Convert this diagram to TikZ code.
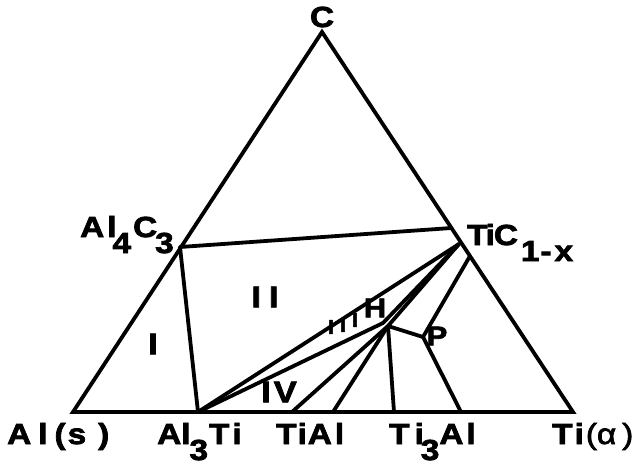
\documentclass[tikz,border=0pt]{standalone}
\usepackage{fontspec}
\newfontfamily\lab{Liberation Sans}[FakeStretch=1.15,FakeBold=2.5]
\newcommand\gp[1]{\hspace{#1pt}}
\newcommand\dn[1]{\raisebox{-16pt}{#1}}
\tikzset{
  lbl/.style={font=\lab\bfseries\fontsize{29}{31}\selectfont, inner sep=0pt, anchor=base west},
  reg/.style={font=\lab\bfseries\fontsize{30}{32}\selectfont, inner sep=0pt, anchor=center},
  sml/.style={font=\lab\bfseries\fontsize{20}{22}\selectfont, inner sep=0pt, anchor=center},
  phase/.style={line width=3.8pt, line join=miter, line cap=round}
}
\begin{document}
\begin{tikzpicture}[x=1pt,y=-1pt]
\path[use as bounding box] (0,0) rectangle (639,465);
% points
\coordinate (C) at (322,32);
\coordinate (L) at (73,412);
\coordinate (R) at (573,412);
\coordinate (A4) at (180,247);
\coordinate (T1) at (451.5,228);
\coordinate (Tc) at (459,244);
\coordinate (B3) at (198,412);
\coordinate (Ha) at (383,323);
\coordinate (Hb) at (388,326);
\coordinate (P) at (423,337);
\coordinate (S) at (470,256);
\coordinate (b1) at (292,412);
\coordinate (b2) at (333,412);
\coordinate (b3) at (394,412);
\coordinate (b4) at (461,412);
% triangle
\draw[phase] (L) -- (R) -- (C) -- cycle;
% tie lines
\draw[phase] (A4) -- (T1);
\draw[phase] (A4) -- (B3);
\draw[phase] (B3) -- (Tc);
\draw[phase] (B3) -- (Ha);
\draw[phase] (Tc) -- (Ha);
\draw[phase] (Tc) -- (Hb);
\draw[phase] (Hb) -- (b1);
\draw[phase] (Hb) -- (b2);
\draw[phase] (Hb) -- (b3);
\draw[phase] (Hb) -- (P);
\draw[phase] (S) -- (P);
\draw[phase] (P) -- (b4);
% labels
\node[lbl,anchor=center] (tC) at (322,17) {C};
\node[lbl] (tAls) at (7,444) {A\gp{7}l\gp{7}(\gp{2}s\gp{12})};
\node[lbl] (tAl3Ti) at (157,444) {Al\gp{-1}\dn{3}\gp{1}T\gp{3}i};
\node[lbl] (tTiAl) at (276,444) {T\gp{1}i\gp{1}A\gp{3}l};
\node[lbl] (tTi3Al) at (389,444) {T\gp{5}i\gp{-3}\dn{3}A\gp{3}l};
\node[lbl] (tTi) at (552,444) {T\gp{2}i\gp{2}{\mdseries(α\gp{6})}};
\node[lbl] (tAl4C3) at (80,237) {A\gp{3}l\gp{-4}\dn{4}\gp{2}C\gp{-2}\dn{3}};
\node[lbl] (tTiC) at (467,245) {T\gp{-2}i\gp{-1}C\gp{3}\dn{1\gp{1}-\gp{3}x}};
\node[reg] (rI) at (153,344) {I};
\node[reg] (rII) at (265,297) {I\gp{8}I};
\node[reg] (rIV) at (279,392) {I\gp{3}V};
\node[reg,font=\lab\bfseries\fontsize{27}{30}\selectfont] (lH) at (375,308) {H};
\node[reg,font=\lab\bfseries\fontsize{27}{30}\selectfont] (lP) at (437,336) {P};
\node[sml] (r3a) at (331,327) {I};
\node[sml] (r3b) at (343,325) {I};
\node[sml] (r3c) at (355,320) {I};
\end{tikzpicture}
\end{document}
